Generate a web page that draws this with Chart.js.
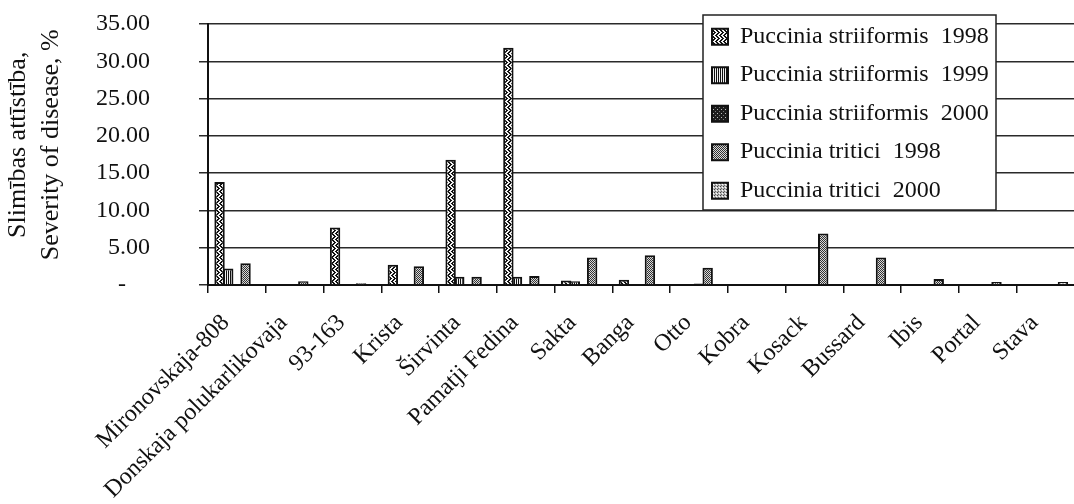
<!DOCTYPE html>
<html>
<head>
<meta charset="utf-8">
<script src="https://cdn.jsdelivr.net/npm/chart.js@4"></script>
<style>
html,body{margin:0;padding:0;overflow:hidden;background:#fff;}
#wrap{position:relative;width:1082px;height:504px;}
</style>
</head>
<body>
<div id="wrap"><canvas id="c"></canvas></div>
<script>
// ---- data ----
const categories = ['Mironovskaja-808','Donskaja polukarlikovaja','93-163','Krista','Širvinta','Pamatji Fedina','Sakta','Banga','Otto','Kobra','Kosack','Bussard','Ibis','Portal','Stava'];
const seriesNames = ['Puccinia striiformis  1998','Puccinia striiformis  1999','Puccinia striiformis  2000','Puccinia tritici  1998','Puccinia tritici  2000'];
const striiformis1998 = [13.8, 0,   7.7, 2.7, 16.8, 31.8, 0.6, 0.7, 0,   0, 0,   0,   0,   0,   0];
const striiformis1999 = [2.2,  0,   0,   0,   1.1,  1.1,  0.5, 0,   0,   0, 0,   0,   0,   0,   0];
const striiformis2000 = [0,    0,   0,   0,   0,    0,    0,   0,   0.2, 0, 0,   0,   0,   0,   0];
const tritici1998     = [2.9,  0.5, 0.25,2.5, 1.1,  1.2,  3.7, 4.0, 2.3, 0, 6.9, 3.7, 0.8, 0.4, 0];
const tritici2000     = [0,    0,   0,   0,   0,    0.1,  0.1, 0,   0.1, 0, 0,   0,   0,   0,   0.4];
const yTicks = [0, 5, 10, 15, 20, 25, 30, 35];
const yTickLabels = ['-    ', '5.00', '10.00', '15.00', '20.00', '25.00', '30.00', '35.00'];
const yTitle = ['   Slimības attīstība,', '   Severity of disease, %'];

// ---- fill patterns ----
const canvas = document.getElementById('c');
const mainCtx = canvas.getContext('2d');
function makePattern(w, h, bg, pixels) {
  const c = document.createElement('canvas');
  c.width = w; c.height = h;
  const x = c.getContext('2d');
  x.fillStyle = bg; x.fillRect(0, 0, w, h);
  pixels.forEach(([px, py, col]) => { x.fillStyle = col; x.fillRect(px, py, 1, 1); });
  return mainCtx.createPattern(c, 'repeat');
}
const K = '#111', W = '#fff';
const pWavy = makePattern(4, 6, '#f4f4f4', [[0,0,K],[1,0,K],[1,1,K],[2,1,K],[2,2,K],[3,2,K],[1,3,K],[2,3,K],[0,4,K],[1,4,K],[0,5,K],[3,5,K]]);
const pStripes = makePattern(2, 1, '#f0f0f0', [[0,0,K]]);
const pDark = makePattern(4, 4, '#1c1c1c', [[1,1,'#bbb'],[3,3,'#777']]);
const pGrid = makePattern(2, 2, '#d8d8d8', [[0,0,'#333'],[1,1,'#333']]);
const pDots = makePattern(3, 3, '#bdbdbd', [[0,0,'#444'],[2,1,W],[1,2,'#666']]);

const seriesValues = [striiformis1998, striiformis1999, striiformis2000, tritici1998, tritici2000];
const patterns = [pWavy, pStripes, pDark, pGrid, pDots];

const FONT = 'Liberation Serif';

// Legend placed over the plot, with white framed box
const legendPlacer = {
  id: 'legendPlacer',
  afterLayout(chart) {
    const lg = chart.legend;
    if (!lg) return;
    lg.left = 697.5; lg.top = 10.2; lg.right = 1000; lg.bottom = 235;
    lg.width = lg.right - lg.left; lg.height = lg.bottom - lg.top;
    if (!lg._boxWrapped) {
      const orig = lg.draw;
      lg.draw = function(...args) {
        const ctx = this.ctx;
        ctx.save();
        ctx.fillStyle = '#fff';
        ctx.fillRect(703, 15, 293, 195);
        ctx.strokeStyle = '#222';
        ctx.lineWidth = 1.5;
        ctx.strokeRect(703, 15, 293, 195);
        ctx.restore();
        return orig.apply(this, args);
      };
      lg._boxWrapped = true;
    }
  }
};

new Chart(canvas, {
  type: 'bar',
  data: {
    labels: categories,
    datasets: seriesNames.map((name, i) => ({
      label: name,
      data: seriesValues[i],
      backgroundColor: patterns[i],
      borderColor: '#111',
      borderWidth: 2,
      barPercentage: 1.2,
      categoryPercentage: 0.75
    }))
  },
  options: {
    responsive: true,
    maintainAspectRatio: false,
    animation: false,
    devicePixelRatio: 1,
    layout: { padding: { left: 0, top: 24, right: 1, bottom: 0 } },
    plugins: {
      tooltip: { enabled: false },
      legend: {
        position: 'chartArea',
        fullSize: false,
        align: 'start',
        labels: {
          font: { family: FONT, size: 24 },
          color: '#111',
          boxWidth: 16,
          boxHeight: 16,
          padding: 14.5
        }
      }
    },
    scales: {
      x: {
        grid: { drawOnChartArea: false, color: '#111', lineWidth: 1.5, tickLength: 8, offset: true },
        border: { display: true, color: '#111', width: 2 },
        ticks: {
          font: { family: FONT, size: 24 },
          color: '#111',
          minRotation: 45,
          maxRotation: 45,
          autoSkip: false,
          padding: 16,
          labelOffset: -11
        },
        afterFit(scale) { scale.height = 219; }
      },
      y: {
        min: 0,
        max: 35,
        afterBuildTicks(scale) { scale.ticks = yTicks.map(v => ({ value: v })); },
        grid: { color: '#2a2a2a', lineWidth: 1.5, tickLength: 9 },
        border: { display: true, color: '#111', width: 2 },
        ticks: {
          font: { family: FONT, size: 24 },
          color: '#111',
          padding: 49,
          autoSkip: false,
          callback(value) { const i = yTicks.indexOf(value); return i >= 0 ? yTickLabels[i] : ''; }
        },
        title: {
          display: true,
          text: yTitle,
          color: '#111',
          font: { family: FONT, size: 26, lineHeight: 1.27 },
          padding: { top: 1.5, bottom: 0 }
        },
        afterFit(scale) {
          scale.width = 208;
          scale.paddingTop = 12;
          scale.paddingBottom = 12;
        }
      }
    }
  },
  plugins: [legendPlacer]
});
</script>
</body>
</html>
